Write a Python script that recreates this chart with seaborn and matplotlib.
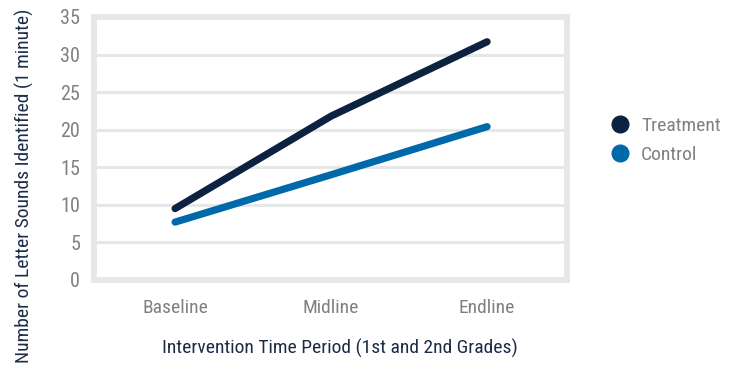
import matplotlib
matplotlib.use("Agg")
import matplotlib.pyplot as plt
from matplotlib.lines import Line2D
import seaborn as sns
import pandas as pd

periods = ["Baseline", "Midline", "Endline"]
treatment = [9.5, 21.8, 31.7]
control = [7.7, 14.0, 20.4]
groups = ["Treatment", "Control"]
colors = {"Treatment": "#0c2240", "Control": "#0069aa"}
y_ticks = [0, 5, 10, 15, 20, 25, 30, 35]

df = pd.DataFrame({
    "period": periods * 2,
    "value": treatment + control,
    "group": ["Treatment"] * 3 + ["Control"] * 3,
})
df["x"] = df["period"].map({p: i for i, p in enumerate(periods)})

sns.set_style("white")
plt.rcParams["font.family"] = ["Roboto Condensed", "DejaVu Sans Condensed",
                               "Liberation Sans Narrow", "Roboto", "DejaVu Sans"]

grid_col = "#e6e7e8"
tick_col = "#7f8083"
label_col = "#1c2b46"

fig = plt.figure(figsize=(7.34, 3.65), dpi=100)
ax = fig.add_axes([0.128, 0.233, 0.644, 0.7205])

for y in y_ticks[1:-1]:
    ax.axhline(y, color=grid_col, lw=2.2, zorder=0)

sns.lineplot(data=df, x="x", y="value", hue="group", hue_order=groups,
             palette=colors, linewidth=5.2, solid_capstyle="round",
             legend=False, ax=ax, zorder=3)

ax.set_xlim(-0.52, 2.51)
ax.set_ylim(0, 35)
ax.set_yticks(y_ticks)
ax.set_yticklabels([str(v) for v in y_ticks], fontsize=14.5, color=tick_col)
ax.tick_params(axis="y", length=0, pad=10)
ax.set_ylabel("")

# category labels centred, separators between categories
ax.set_xticks([0.5, 1.5])
ax.set_xticklabels([])
ax.tick_params(axis="x", length=9, width=2.5, color=grid_col, direction="out")
for i, p in enumerate(periods):
    ax.text(i, -3.7, p, ha="center", va="center", fontsize=14, color=tick_col,
            transform=ax.transData)

for s in ax.spines.values():
    s.set_visible(True)
    s.set_color(grid_col)
    s.set_linewidth(4.2)

ax.set_xlabel("Intervention Time Period (1st and 2nd Grades)", fontsize=14,
              color=label_col, labelpad=30)
ax.xaxis.label.set_x(0.52)
fig.text(0.033, 0.49, "Number of Letter Sounds Identified (1 minute)", fontsize=14,
         color=label_col, rotation=90, ha="center", va="center")

handles = [Line2D([], [], marker="o", ls="", ms=12, color=colors[g]) for g in groups]
leg = fig.legend(handles, groups, loc="center left", bbox_to_anchor=(0.794, 0.615),
                 frameon=False, fontsize=14, handletextpad=0.1, labelspacing=0.55)
for t in leg.get_texts():
    t.set_color(tick_col)

fig.savefig("out.png", dpi=100)
